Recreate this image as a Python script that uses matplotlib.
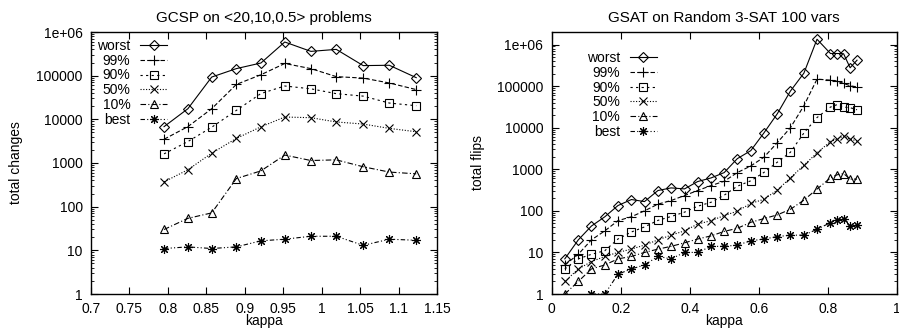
"""
Two gnuplot-style log plots: GCSP and GSAT search cost percentiles vs kappa
"""
import numpy as np
import matplotlib
matplotlib.use("Agg")
import matplotlib.pyplot as plt
from matplotlib.ticker import FixedLocator, FuncFormatter, LogLocator, NullFormatter

plt.rcParams['font.family'] = ['Liberation Sans', 'DejaVu Sans']
plt.rcParams['font.size'] = 10

# series labels (gnuplot key order)
labels = ['worst', '99%', '90%', '50%', '10%', 'best']

# left panel: GCSP on <20,10,0.5> problems
kappa_gcsp = [0.795, 0.826, 0.857, 0.889, 0.921, 0.952, 0.986, 1.019, 1.054, 1.088, 1.123]
gcsp_worst = [6800, 17500, 93000, 145000, 195000, 590000, 360000, 400000, 170000, 173000, 90000]
gcsp_99 = [3500, 6800, 17500, 63000, 105000, 190000, 145000, 95000, 88000, 68000, 48000]
gcsp_90 = [1620, 3100, 6600, 16000, 39000, 58000, 50000, 38700, 34000, 23600, 20500]
gcsp_50 = [370, 700, 1680, 3650, 6750, 11300, 10900, 8700, 7800, 6200, 5200]
gcsp_10 = [30, 54, 72, 440, 660, 1520, 1140, 1180, 820, 620, 565]
gcsp_best = [11, 12, 11, 12, 16.5, 18, 21, 21, 13, 18, 17]

# right panel: GSAT on random 3-SAT, 100 vars
kappa_sat = [0.038, 0.077, 0.115, 0.154, 0.192, 0.231, 0.269, 0.308, 0.346, 0.385,
             0.423, 0.462, 0.500, 0.538, 0.577, 0.615, 0.654, 0.692, 0.731, 0.769,
             0.808, 0.827, 0.846, 0.865, 0.885]
sat_worst = [7, 20, 43, 72, 134, 187, 167, 308, 356, 337, 506, 619, 832, 1800, 2800,
             7450, 21700, 76000, 205000, 1340000, 608000, 608000, 600000, 276000, 420000]
sat_99 = [5, 9, 20, 33, 58, 72, 100, 145, 177, 233, 308, 405, 515, 832, 1200,
          1940, 4370, 10000, 33700, 147000, 139000, 132000, 116000, 102000, 95000]
sat_90 = [4, 7, 9, 11, 21, 31, 41, 59, 73, 93, 129, 161, 238, 391, 527,
          838, 1480, 2570, 7450, 17500, 31300, 35800, 31300, 30200, 27000]
sat_50 = [2, 4, 6, 8, 10, 12, 15, 20, 26, 33, 48, 58, 77, 98, 151,
          189, 316, 622, 1250, 2470, 4650, 5300, 6300, 5300, 4800]
sat_10 = [1, 2, 4, 5, 7, 8, 10, 12, 14, 17, 21, 25, 32, 38, 53,
          65, 80, 109, 181, 334, 620, 735, 790, 580, 580]
sat_best = [0, 0, 1, 1, 3, 4, 5, 8, 7, 10, 10, 14, 14, 15, 19,
            21, 24, 26, 26, 36, 52, 60, 64, 43, 46]

# y tick values shared by both panels
yticks = [1, 10, 100, 1000, 10000, 100000, 1000000]

# gnuplot-like styles per series
styles = [
    dict(ls='-', marker='D', ms=4.6),
    dict(ls=(0, (4, 2)), marker='+', ms=6.5),
    dict(ls=(0, (2, 3)), marker='s', ms=5.5),
    dict(ls=(0, (1, 1.5)), marker='x', ms=5.5),
    dict(ls=(0, (5, 2, 1, 2)), marker='^', ms=6),
    dict(ls=(0, (4, 2, 1, 2, 1, 2)), marker=(8, 2, 0), ms=6.5),
]


def ylog_fmt(v, pos):
    return f'{v:g}'


def draw_panel(ax, x, series, xlim, ylim, xticks, title, ylabel, legend_anchor, ylabel_x):
    for y, lab, st in zip(series, labels, styles):
        ax.plot(x, y, color='black', lw=0.8, mfc='none', mew=0.8, label=lab, **st)
    ax.set_yscale('log', nonpositive='mask')
    ax.set_xlim(*xlim)
    ax.set_ylim(*ylim)
    ax.xaxis.set_major_locator(FixedLocator(xticks))
    ax.xaxis.set_major_formatter(FuncFormatter(lambda v, p: f'{v:g}'))
    ax.yaxis.set_major_locator(FixedLocator(yticks))
    ax.yaxis.set_minor_locator(LogLocator(base=10, subs=np.arange(2, 10), numticks=20))
    ax.yaxis.set_major_formatter(FuncFormatter(ylog_fmt))
    ax.yaxis.set_minor_formatter(NullFormatter())
    ax.tick_params(which='both', direction='in', top=True, right=True, labelsize=10, pad=6)
    ax.tick_params(which='major', length=5, width=0.8)
    ax.tick_params(which='minor', length=2.5, width=0.6)
    for sp in ax.spines.values():
        sp.set_linewidth(1.0)
    ax.set_title(title, fontsize=11, pad=7)
    ax.set_xlabel('kappa', fontsize=10)
    ax.xaxis.set_label_coords(0.5, -0.078)
    ax.set_ylabel(ylabel, fontsize=10)
    ax.yaxis.set_label_coords(ylabel_x, 0.5)
    ax.legend(loc='upper right', bbox_to_anchor=legend_anchor, frameon=False,
              markerfirst=False, numpoints=1, fontsize=10, handlelength=1.95,
              handletextpad=0.7, labelspacing=0.05, borderpad=0, borderaxespad=0)


fig = plt.figure(figsize=(8.99, 3.30), dpi=100)
ax1 = fig.add_axes([91 / 899, 36 / 330, 346 / 899, 262 / 330])
ax2 = fig.add_axes([551.7 / 899, 36 / 330, 345 / 899, 262 / 330])

draw_panel(ax1, kappa_gcsp,
           [gcsp_worst, gcsp_99, gcsp_90, gcsp_50, gcsp_10, gcsp_best],
           (0.7, 1.15), (1, 1e6),
           [0.7, 0.75, 0.8, 0.85, 0.9, 0.95, 1.0, 1.05, 1.1, 1.15],
           'GCSP on <20,10,0.5> problems', 'total changes',
           (0.22, 0.973), -0.197)

draw_panel(ax2, kappa_sat,
           [sat_worst, sat_99, sat_90, sat_50, sat_10, sat_best],
           (0, 1), (1, 2e6),
           [0, 0.2, 0.4, 0.6, 0.8, 1.0],
           'GSAT on Random 3-SAT 100 vars', 'total flips',
           (0.305, 0.927), -0.193)

fig.savefig('out.png', dpi=100)
